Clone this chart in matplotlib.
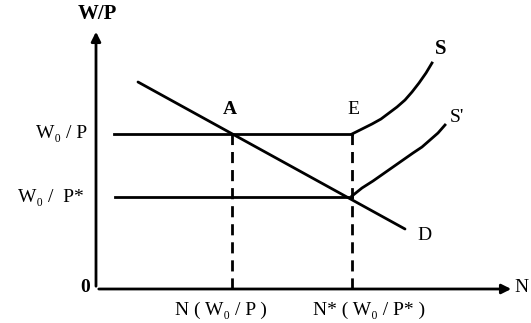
import numpy as np
import matplotlib.pyplot as plt

plt.rcParams['font.family'] = ['Liberation Serif', 'DejaVu Serif']

# labour market diagram, arbitrary units (origin at 0,0)
wage_high = 155      # W0/P
wage_low = 92        # W0/P*
n_a = 136            # N(W0/P)
n_e = 256            # N*(W0/P*)

demand_x = [42, 309]
demand_y = [207, 60]

s_x = [256, 266, 276, 285, 293, 301, 309, 316, 323, 330, 336]
s_y = [155, 160, 165, 170, 176, 182, 189, 197, 206, 216, 226]

s2_x = [256, 266, 277, 287, 297, 307, 317, 326, 334, 342, 349]
s2_y = [93, 101, 108, 115, 122, 129, 136, 142, 149, 156, 164]

fig = plt.figure(figsize=(5.31, 3.23), dpi=100)
ax = fig.add_axes([0, 0, 1, 1])
ax.set_xlim(-96, 435)
ax.set_ylim(-34, 289)
ax.axis('off')

lw = 2.0
# axes with arrows
ax.annotate('', xy=(0, 260), xytext=(0, 0),
            arrowprops=dict(arrowstyle='-|>', lw=lw, color='black', mutation_scale=14))
ax.annotate('', xy=(418, 0), xytext=(0, 0),
            arrowprops=dict(arrowstyle='-|>', lw=lw, color='black', mutation_scale=14))

# horizontal wage lines
ax.plot([18, n_e], [wage_high, wage_high], color='black', lw=lw)
ax.plot([19, n_e], [wage_low, wage_low], color='black', lw=lw)

# dashed verticals
ax.plot([n_a, n_a], [0, wage_high], color='black', lw=lw, ls=(0, (4, 2.5)))
ax.plot([n_e, n_e], [0, wage_high], color='black', lw=lw, ls=(0, (4, 2.5)))

# demand and supply curves
ax.plot(demand_x, demand_y, color='black', lw=lw, solid_capstyle='round')
ax.plot(s_x, s_y, color='black', lw=lw, solid_joinstyle='round')
ax.plot(s2_x, s2_y, color='black', lw=lw, solid_joinstyle='round')

fs = 14
ax.text(1, 275, 'W/P', fontsize=15, fontweight='bold', ha='center', va='center')
ax.text(-11, 1, '0', fontsize=fs, fontweight='bold', ha='center', va='center')
ax.text(-9, wage_high, 'W₀ / P', fontsize=fs, ha='right', va='center')
ax.text(-12, wage_low, 'W₀ /  P*', fontsize=fs, ha='right', va='center')
ax.text(n_a - 11, -21, 'N ( W₀ / P )', fontsize=fs, ha='center', va='center')
ax.text(n_e + 17, -21, 'N* ( W₀ / P* )', fontsize=fs, ha='center', va='center')
ax.text(425, 1, 'N', fontsize=fs, ha='center', va='center')
ax.text(n_a - 2, 179, 'A', fontsize=fs, fontweight='bold', ha='center', va='center')
ax.text(n_e + 1, 180, 'E', fontsize=fs, ha='center', va='center')
ax.text(345, 240, 'S', fontsize=15, fontweight='bold', ha='center', va='center')
ax.text(361, 172, "S'", fontsize=fs, ha='center', va='center')
ax.text(328, 53, 'D', fontsize=fs, ha='center', va='center')

fig.savefig('out.png', dpi=100)
